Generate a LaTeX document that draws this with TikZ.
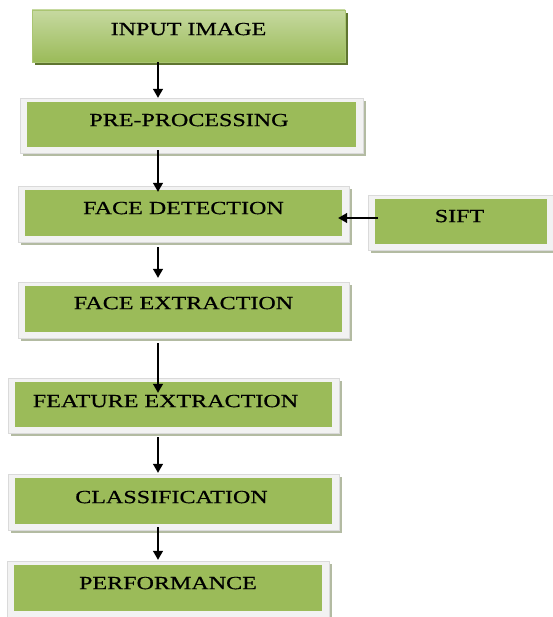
\documentclass[tikz,border=0pt]{standalone}
\usepackage{fontspec}
\newfontfamily\boxfont[FakeStretch=1.3,FakeBold=0.6]{Liberation Serif}
\usetikzlibrary{arrows.meta,backgrounds}
\definecolor{og}{HTML}{9BBB59}
\definecolor{oglight}{HTML}{C6D9A0}
\definecolor{frm}{HTML}{F2F2F2}
\definecolor{frmline}{HTML}{DADADA}
\definecolor{shd}{HTML}{B3BBA2}
\definecolor{dshd}{HTML}{5F7530}
\tikzset{
  gbox/.style={rectangle, fill=og, inner sep=0pt, text height=0pt, text depth=0pt,
    font=\boxfont\fontsize{18.5}{20}\selectfont, text=black},
  flow/.style={line width=1.2pt, -{Triangle[length=9pt,width=10pt]}},
  framebg/.style={fill=frm, draw=frmline, line width=0.4pt},
  shadowbg/.style={fill=shd},
}
\newcommand{\myframedraw}[1]{%
  \fill[shadowbg] ([shift={(-4pt,1pt)}]#1.north west) rectangle ([shift={(10pt,-9pt)}]#1.south east);
  \path[framebg] ([shift={(-7pt,4pt)}]#1.north west) rectangle ([shift={(7pt,-6pt)}]#1.south east);
}
\begin{document}
\begin{tikzpicture}[x=1pt,y=-1pt]
\useasboundingbox (0,0) rectangle (552,617);
% boxes
\node[gbox, top color=oglight, bottom color=og, draw=og!85!white, line width=0.6pt,
  minimum width=313pt, minimum height=52pt] (in) at (188.5,36) {\raisebox{0.9pt}{INPUT IMAGE}};
\node[gbox, minimum width=329pt, minimum height=45pt] (pre) at (191.5,124.5) {\raisebox{-1.6pt}{\hspace*{-5pt}PRE-PROCESSING}};
\node[gbox, minimum width=317pt, minimum height=46pt] (fd) at (183.5,213) {\raisebox{-1.1pt}{FACE DETECTION}};
\node[gbox, minimum width=172pt, minimum height=45pt] (sift) at (461,221.5) {\raisebox{-0.6pt}{\hspace*{-3pt}SIFT}};
\node[gbox, minimum width=317pt, minimum height=46pt] (fe) at (183.5,309) {\raisebox{-0.1pt}{FACE EXTRACTION}};
\node[gbox, minimum width=317pt, minimum height=45pt] (feat) at (173.5,404.5) {\raisebox{-2.6pt}{\hspace*{-16pt}FEATURE EXTRACTION}};
\node[gbox, minimum width=317pt, minimum height=46pt] (cls) at (173.5,501) {\raisebox{-2.1pt}{\hspace*{-4pt}CLASSIFICATION}};
\node[gbox, minimum width=308pt, minimum height=46pt] (perf) at (168,588) {\raisebox{-1.1pt}{PERFORMANCE}};
% frames and shadows
\begin{scope}[on background layer]
  \fill[dshd] ([shift={(3pt,-3pt)}]in.north west) rectangle ([shift={(3pt,-3pt)}]in.south east);
  \myframedraw{pre}
  \myframedraw{fd}
  \myframedraw{sift}
  \myframedraw{fe}
  \myframedraw{feat}
  \myframedraw{cls}
  \myframedraw{perf}
\end{scope}
% connectors
\coordinate (ax) at (158,0);
\coordinate (sy) at (0,218);
\draw[flow, shorten >=4pt] (in.south -| ax) -- (pre.north -| ax);
\draw[flow, shorten <=3pt, shorten >=-2pt] (pre.south -| ax) -- (fd.north -| ax);
\draw[flow, shorten <=11pt, shorten >=8pt] (fd.south -| ax) -- (fe.north -| ax);
\draw[flow, shorten <=11pt, shorten >=-11pt] (fe.south -| ax) -- (feat.north -| ax);
\draw[flow, shorten <=10pt, shorten >=5pt] (feat.south -| ax) -- (cls.north -| ax);
\draw[flow, shorten <=3pt, shorten >=5pt] (cls.south -| ax) -- (perf.north -| ax);
\draw[flow, shorten <=-3pt, shorten >=-4pt] (sift.west |- sy) -- (fd.east |- sy);
\end{tikzpicture}
\end{document}
